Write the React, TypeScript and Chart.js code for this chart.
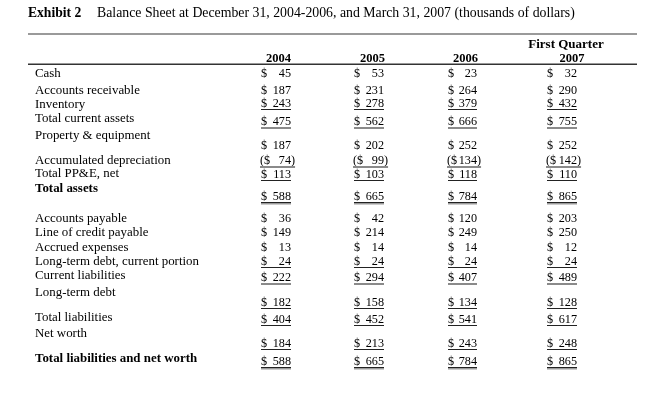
import React, { useEffect, useRef } from "react";
import { Chart, registerables } from "chart.js";

Chart.register(...registerables);

const TITLE_BOLD = "Exhibit 2";
const TITLE_TEXT = "Balance Sheet at December 31, 2004-2006, and March 31, 2007 (thousands of dollars)";
const HEAD_TOP = ["", "", "", "First Quarter"];
const HEAD_YEARS = ["2004", "2005", "2006", "2007"];

const ROW_LABELS = [
  "Cash",
  "Accounts receivable",
  "Inventory",
  "Total current assets",
  "Property & equipment",
  "Accumulated depreciation",
  "Total PP&E, net",
  "Total assets",
  "Accounts payable",
  "Line of credit payable",
  "Accrued expenses",
  "Long-term debt, current portion",
  "Current liabilities",
  "Long-term debt",
  "Total liabilities",
  "Net worth",
  "Total liabilities and net worth",
];
const VALUES_2004 = [45, 187, 243, 475, 187, -74, 113, 588, 36, 149, 13, 24, 222, 182, 404, 184, 588];
const VALUES_2005 = [53, 231, 278, 562, 202, -99, 103, 665, 42, 214, 14, 24, 294, 158, 452, 213, 665];
const VALUES_2006 = [23, 264, 379, 666, 252, -134, 118, 784, 120, 249, 14, 24, 407, 134, 541, 243, 784];
const VALUES_Q1_2007 = [32, 290, 432, 755, 252, -142, 110, 865, 203, 250, 12, 24, 489, 128, 617, 248, 865];
const BOLD_ROWS = ["Total assets", "Total liabilities and net worth"];

// ---- layout (positions in scale units; the scales map 1:1 onto the page) ----
const LABEL_X = 35;
const LABEL_Y = [73, 90, 104, 118, 135, 160, 173, 188, 218, 232, 247, 261, 275, 292, 317, 333, 358];
const VALUE_Y = [73, 90, 103, 121, 145, 160, 174, 196, 218, 232, 247, 261, 277, 302, 319, 343, 361];
const DOLLAR_X = [261, 354, 448, 547];
const RIGHT_X = [291, 384, 477, 577];
const HEAD_YEAR_X = [291, 385, 478, 572];
const HEAD_YEAR_ALIGN: CanvasTextAlign[] = ["right", "right", "right", "center"];
const HEAD_TOP_X = 566;
const UNDERLINE = [0, 0, 1, 2, 0, 2, 1, 3, 0, 0, 0, 1, 2, 1, 1, 1, 3];

const SERIF = '"Liberation Serif", "Times New Roman", serif';

const tablePlugin = {
  id: "balanceTable",
  beforeDraw(chart: any) {
    const { ctx, width, height } = chart;
    ctx.save();
    ctx.fillStyle = "#ffffff";
    ctx.fillRect(0, 0, width, height);
    ctx.restore();
  },
  afterDraw(chart: any) {
    const ctx: CanvasRenderingContext2D = chart.ctx;
    const xs = chart.scales.x;
    const ys = chart.scales.y;
    const X = (v: number) => xs.getPixelForValue(v);
    const Y = (v: number) => ys.getPixelForValue(v);
    ctx.save();
    ctx.fillStyle = "#000";
    ctx.textBaseline = "alphabetic";

    // title
    ctx.font = `bold 13.6px ${SERIF}`;
    ctx.textAlign = "left";
    ctx.fillText(TITLE_BOLD, X(28), Y(12) + 4.5);
    ctx.font = `13.8px ${SERIF}`;
    ctx.fillText(TITLE_TEXT, X(97), Y(12) + 4.5);

    // rules
    ctx.fillStyle = "#9a9a9a";
    ctx.fillRect(X(28), Y(33), X(637) - X(28), 2);
    ctx.fillStyle = "#333";
    ctx.fillRect(X(28), Y(63.5), X(637) - X(28), 1.5);

    // headers
    ctx.fillStyle = "#000";
    ctx.font = `bold 13px ${SERIF}`;
    ctx.textAlign = "center";
    HEAD_TOP.forEach((t) => {
      if (t) ctx.fillText(t, X(HEAD_TOP_X), Y(43) + 4.5);
    });
    ctx.font = `bold 12.5px ${SERIF}`;
    HEAD_YEARS.forEach((t, i) => {
      ctx.textAlign = HEAD_YEAR_ALIGN[i];
      ctx.fillText(t, X(HEAD_YEAR_X[i]), Y(57) + 4.5);
    });

    // row labels
    ROW_LABELS.forEach((lab, r) => {
      const bold = BOLD_ROWS.includes(lab);
      ctx.font = `${bold ? "bold " : ""}12.9px ${SERIF}`;
      ctx.textAlign = "left";
      ctx.fillStyle = "#000";
      ctx.fillText(lab, X(LABEL_X), Y(LABEL_Y[r]) + 4.3);
    });

    // values
    const cols = [VALUES_2004, VALUES_2005, VALUES_2006, VALUES_Q1_2007];
    ctx.font = `12.2px ${SERIF}`;
    cols.forEach((vals, c) => {
      vals.forEach((v, r) => {
        const y = Y(VALUE_Y[r]) + 4.3;
        const dx = X(DOLLAR_X[c]);
        const rx = X(RIGHT_X[c]);
        ctx.fillStyle = "#000";
        let endX = rx;
        if (v < 0) {
          ctx.textAlign = "left";
          ctx.fillText("($", dx - 1, y);
          ctx.textAlign = "right";
          ctx.fillText(String(Math.abs(v)), rx, y);
          ctx.textAlign = "left";
          ctx.fillText(")", rx, y);
          endX = rx + ctx.measureText(")").width;
        } else {
          ctx.textAlign = "left";
          ctx.fillText("$", dx, y);
          ctx.textAlign = "right";
          ctx.fillText(String(v), rx, y);
        }
        const u = UNDERLINE[r];
        const uy = Math.round(y + 2);
        const startX = v < 0 ? dx - 1 : dx;
        if (u === 1) {
          ctx.fillStyle = "#222";
          ctx.fillRect(startX, uy, endX - startX, 1);
        } else if (u === 2) {
          ctx.fillStyle = "#8a8a8a";
          ctx.fillRect(startX, uy, endX - startX, 2);
        } else if (u === 3) {
          ctx.fillStyle = "#222";
          ctx.fillRect(startX, uy, endX - startX, 1);
          ctx.fillStyle = "#9a9a9a";
          ctx.fillRect(startX, uy + 1, endX - startX, 1.5);
        }
      });
    });
    ctx.restore();
  },
};

export default function App() {
  const ref = useRef<HTMLCanvasElement | null>(null);
  useEffect(() => {
    if (!ref.current) return;
    const chart = new Chart(ref.current, {
      type: "scatter",
      data: { datasets: [] },
      options: {
        responsive: false,
        animation: false,
        devicePixelRatio: 1,
        layout: { padding: 0 },
        plugins: { legend: { display: false }, tooltip: { enabled: false } },
        scales: {
          x: { type: "linear", min: 0, max: 667, display: false },
          y: { type: "linear", min: 0, max: 404, reverse: true, display: false },
        },
      },
      plugins: [tablePlugin],
    });
    return () => chart.destroy();
  }, []);
  return (
    <canvas
      ref={ref}
      width={667}
      height={404}
      style={{ position: "absolute", left: 0, top: 0, width: 667, height: 404 }}
    />
  );
}
